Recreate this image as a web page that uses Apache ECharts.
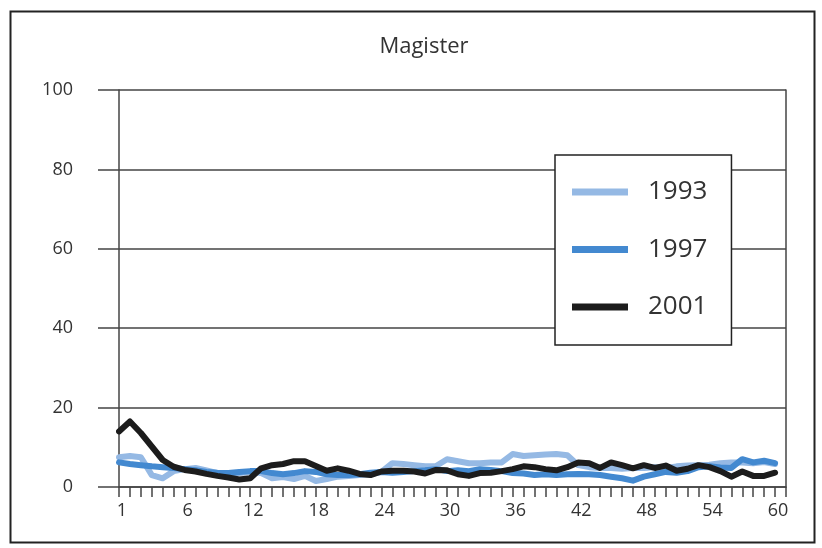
<!DOCTYPE html>
<html>
<head>
<meta charset="utf-8">
<script src="https://cdn.jsdelivr.net/npm/echarts@6/dist/echarts.min.js"></script>
<style>html,body{margin:0;padding:0;background:#fff}#c{width:822px;height:548px}</style>
</head>
<body>
<div id="c"></div>
<script>
const titleText = 'Magister';
const seriesNames = ['1993', '1997', '2001'];
const tickLabels = ['1', '6', '12', '18', '24', '30', '36', '42', '48', '54', '60'];
const yTicks = [0, 20, 40, 60, 80, 100];
const v1993 = [7.5, 7.8, 7.5, 3.0, 2.2, 4.0, 4.5, 4.8, 4.2, 3.5, 3.2, 3.5, 3.8, 3.5, 2.2, 2.5, 2.0, 2.8, 1.5, 2.0,
  2.6, 2.8, 3.0, 3.2, 3.8, 6.0, 5.8, 5.5, 5.2, 5.3, 7.0, 6.5, 6.0, 6.0, 6.2, 6.2, 8.3, 7.8, 8.0, 8.2,
  8.3, 8.0, 5.5, 5.0, 4.8, 4.8, 4.6, 4.8, 4.8, 5.0, 4.8, 5.2, 5.4, 5.5, 5.6, 6.0, 6.2, 6.2, 6.0, 6.3, 5.8];
const v1997 = [6.2, 5.8, 5.5, 5.2, 5.0, 4.8, 4.5, 4.2, 3.8, 3.6, 3.5, 3.8, 4.0, 4.0, 3.5, 3.2, 3.5, 4.0, 3.8, 3.2,
  3.0, 3.0, 3.2, 3.6, 3.8, 3.6, 3.8, 4.0, 4.2, 4.5, 4.0, 4.2, 4.0, 4.5, 4.3, 4.0, 3.5, 3.4, 3.0, 3.2,
  3.0, 3.2, 3.3, 3.2, 3.0, 2.6, 2.2, 1.6, 2.6, 3.2, 3.8, 3.6, 4.0, 5.0, 5.2, 4.9, 4.8, 7.0, 6.2, 6.6, 6.0];
const v2001 = [14.0, 16.5, 13.6, 10.2, 6.8, 5.1, 4.3, 3.9, 3.3, 2.8, 2.4, 1.9, 2.2, 4.7, 5.5, 5.8, 6.5, 6.5, 5.3, 4.1,
  4.7, 4.1, 3.3, 3.0, 3.9, 4.1, 4.1, 3.9, 3.4, 4.3, 4.2, 3.2, 2.8, 3.5, 3.6, 4.0, 4.5, 5.2, 5.0, 4.5,
  4.2, 5.0, 6.2, 6.0, 4.8, 6.2, 5.5, 4.7, 5.5, 4.8, 5.4, 4.1, 4.6, 5.5, 5.0, 4.0, 2.6, 3.9, 2.8, 2.8, 3.6];
const colors = ['#95b9e4', '#4389d0', '#1c1c1c'];
// 62 category slots: points sit on ticks 0..60, axis runs to slot 61
const xCategories = Array.from({length: 62}, (_, i) => String(i));

const FONT = '"Open Sans", "Noto Sans", sans-serif';
const chart = echarts.init(document.getElementById('c'), null, {renderer: 'canvas'});
const mk = (name, data, color, z) => ({
  name, type: 'line', data, symbol: 'none', z,
  lineStyle: {color, width: 6, join: 'round', cap: 'round'},
  itemStyle: {color}, animation: false
});
chart.setOption({
  animation: false,
  backgroundColor: '#fff',
  title: {
    text: titleText, left: 419, top: 31, textAlign: 'center',
    textStyle: {fontFamily: FONT, fontSize: 22, fontWeight: 'normal', color: '#333'}
  },
  grid: {left: 119, right: 36, top: 90, bottom: 61, containLabel: false},
  xAxis: {
    type: 'category', data: xCategories, boundaryGap: false,
    axisLine: {show: true, lineStyle: {color: '#444', width: 1.5}},
    axisTick: {show: true, interval: 0, inside: false, length: 10, lineStyle: {color: '#444', width: 1.5}},
    axisLabel: {
      interval: 0, margin: 15, fontFamily: FONT, fontSize: 18, color: '#333', padding: [0, 0, 0, 6],
      formatter: (v, idx) => (idx % 6 === 0 && idx / 6 < tickLabels.length) ? tickLabels[idx / 6] : ''
    },
    splitLine: {show: false}
  },
  yAxis: [{
    type: 'value', min: yTicks[0], max: yTicks[yTicks.length - 1], interval: yTicks[1] - yTicks[0],
    axisLine: {show: true, lineStyle: {color: '#444', width: 1.5}},
    axisTick: {show: true, inside: false, length: 21, lineStyle: {color: '#444', width: 1.5}},
    axisLabel: {margin: 46, fontFamily: FONT, fontSize: 18, color: '#333', padding: [0, 0, 11, 0]},
    splitLine: {show: true, lineStyle: {color: '#444', width: 1.5}}
  }, {
    type: 'value', position: 'right', min: 0, max: 100,
    axisLine: {show: true, lineStyle: {color: '#444', width: 1.5}},
    axisTick: {show: false}, axisLabel: {show: false}, splitLine: {show: false}
  }],
  legend: {
    orient: 'vertical', left: 555, top: 155,
    data: seriesNames, icon: 'rect', itemWidth: 56, itemHeight: 7, itemGap: 27.5,
    padding: [22, 24, 23, 17],
    backgroundColor: '#fff', borderColor: '#222', borderWidth: 1.5, z: 10,
    textStyle: {fontFamily: FONT, fontSize: 26, color: '#333', lineHeight: 30, padding: [0, 0, 0, 15]}
  },
  series: [
    mk(seriesNames[0], v1993, colors[0], 2),
    mk(seriesNames[1], v1997, colors[1], 3),
    mk(seriesNames[2], v2001, colors[2], 4)
  ],
  graphic: [{
    type: 'rect', left: 8, top: 9, shape: {x: 0, y: 0, width: 804, height: 531},
    style: {fill: null, stroke: '#222', lineWidth: 2}, silent: true, z: 100
  }]
});
</script>
</body>
</html>
